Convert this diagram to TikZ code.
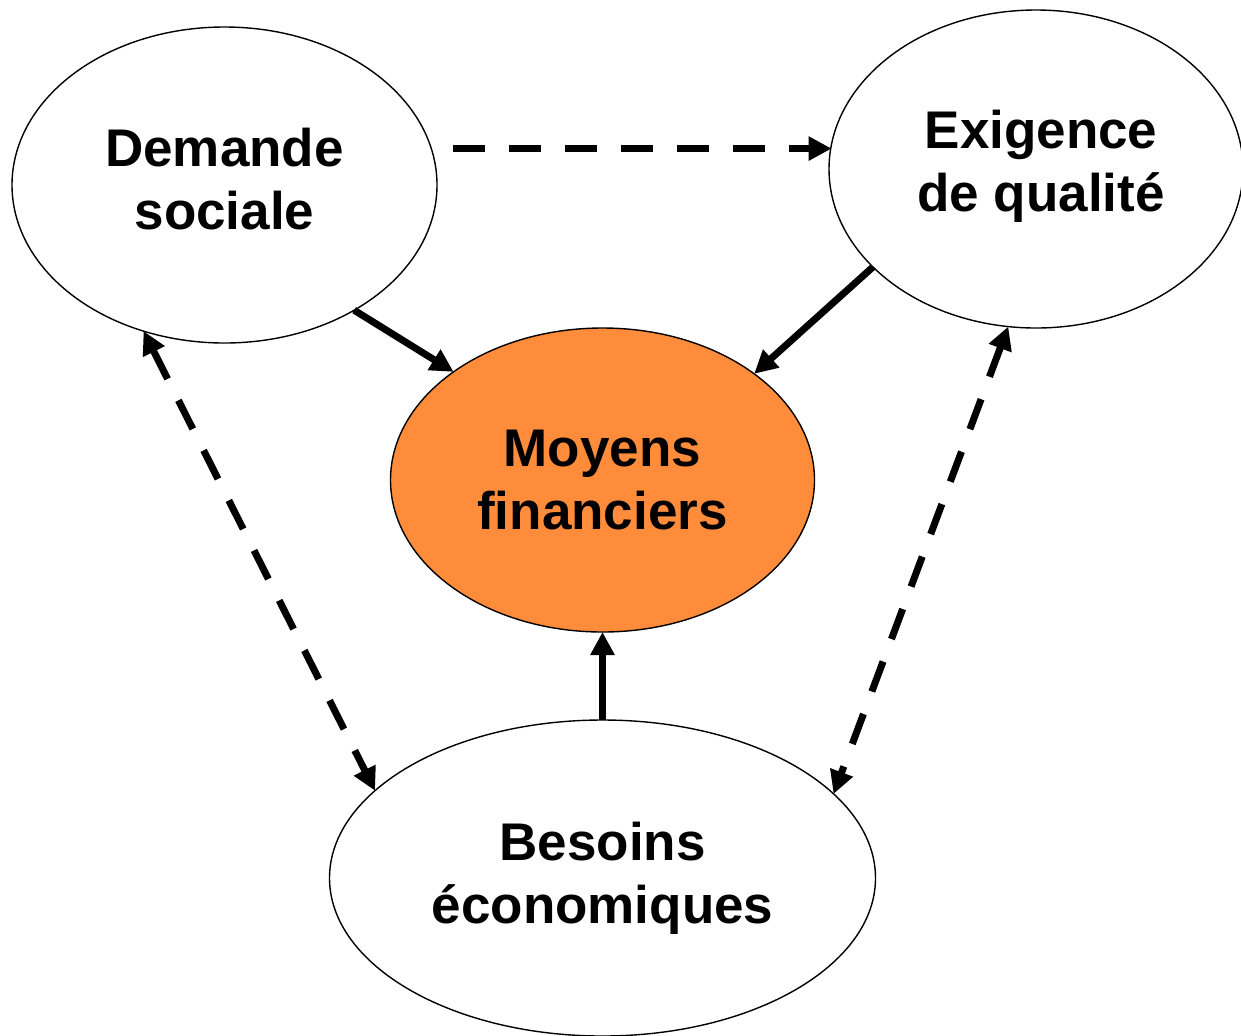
\documentclass[tikz,border=0pt]{standalone}
\usepackage{fontspec}
\setmainfont{Liberation Sans}
\usetikzlibrary{shapes.geometric,arrows.meta}
\definecolor{orangefill}{RGB}{255,140,58}
\begin{document}
\begin{tikzpicture}[x=0.5pt,y=-0.5pt,
  bubble/.style={ellipse,draw=black,line width=0.7pt,inner sep=0pt,outer sep=0pt},
  txt/.style={inner sep=0pt,align=center,font=\fontsize{26.5}{31.5}\selectfont\bfseries},
  solidarrow/.style={line width=3.5pt,-{Triangle[length=11.5pt,width=11.5pt]}},
  dasharrow/.style={line width=3.5pt,dash pattern=on 16pt off 12pt,-{Triangle[length=11.5pt,width=11.5pt]}},
  dashboth/.style={line width=3.5pt,dash pattern=on 16pt off 12pt,{Triangle[length=11.5pt,width=11.5pt]}-{Triangle[length=11.5pt,width=11.5pt]}}]
\useasboundingbox (0,0) rectangle (1241,1035);
\clip (0,0) rectangle (1241,1035);
\fill[white] (0,0) rectangle (1241,1035);
\node[bubble,minimum width=212.5pt,minimum height=158pt] (d) at (224.5,185) {};
\node[bubble,minimum width=207pt,minimum height=159pt] (e) at (1036,169) {};
\node[bubble,fill=orangefill,minimum width=212pt,minimum height=152pt] (m) at (602.5,480) {};
\node[bubble,minimum width=273pt,minimum height=158pt] (b) at (602.5,878) {};
\node[txt] (dt) at (224.5,179) {Demande\\sociale};
\node[txt] (et) at (1041,166) {Exigence\\de qualité};
\node[txt] (mt) at (602.5,480) {Moyens\\financiers};
\node[txt] (bt) at (602.5,878) {Besoins\\économiques};
\coordinate (ds) at ([xshift=11pt]d.10.4);
\draw[dasharrow] (ds) -- (e.173.9 |- ds);
\draw[solidarrow] (d.-44) -- (m.144);
\draw[solidarrow] (e.211.6) -- (m.35);
\draw[solidarrow] (b.north) -- (m.south);
\draw[dashboth] (d.241.2) -- (b.159.6);
\draw[dashboth] (e.260.8) -- (b.20);
\end{tikzpicture}
\end{document}
